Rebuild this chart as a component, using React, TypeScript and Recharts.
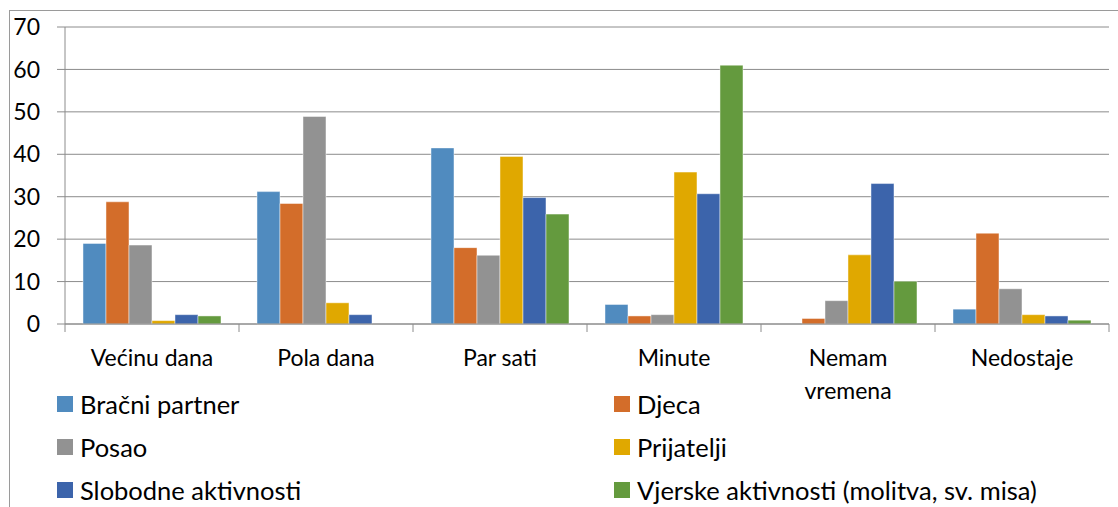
import { Bar, BarChart, CartesianGrid, Legend, XAxis, YAxis } from "recharts";

const categories = ["Većinu dana", "Pola dana", "Par sati", "Minute", "Nemam vremena", "Nedostaje"];
const bracniPartner = [19.0, 31.2, 41.5, 4.6, 0, 3.5];
const djeca = [28.8, 28.4, 18.0, 1.9, 1.3, 21.4];
const posao = [18.6, 48.9, 16.2, 2.2, 5.5, 8.3];
const prijatelji = [0.8, 5.0, 39.5, 35.8, 16.3, 2.2];
const slobodneAktivnosti = [2.2, 2.2, 29.8, 30.7, 33.1, 1.9];
const vjerskeAktivnosti = [1.9, 0, 25.9, 61.0, 10.1, 0.9];
const yTicks = [0, 10, 20, 30, 40, 50, 60, 70];

const series = [
  { key: "bracni", name: "Bračni partner", color: "#508bbf", values: bracniPartner },
  { key: "djeca", name: "Djeca", color: "#d36d2a", values: djeca },
  { key: "posao", name: "Posao", color: "#929292", values: posao },
  { key: "prijatelji", name: "Prijatelji", color: "#e0a800", values: prijatelji },
  { key: "slobodne", name: "Slobodne aktivnosti", color: "#3c64ab", values: slobodneAktivnosti },
  { key: "vjerske", name: "Vjerske aktivnosti (molitva, sv. misa)", color: "#649a3e", values: vjerskeAktivnosti },
];

const data = categories.map((name, i) => {
  const row: Record<string, string | number> = { name };
  series.forEach((s) => {
    row[s.key] = s.values[i];
  });
  return row;
});

const FONT = "Lato, 'Open Sans', sans-serif";
const AXIS = "#8c8c8c";

// long labels wrap onto one word per line, like the original
function wrapLabel(label: string): string[] {
  if (label.length <= 12) return [label];
  return label.split(" ");
}

// label in the middle of the band, tick marks on the band edges (Excel style)
function CategoryTick(props: any) {
  const { x, y, payload, index, width, visibleTicksCount } = props;
  const lines = wrapLabel(String(payload.value));
  const count = visibleTicksCount || categories.length;
  const half = (width || 1044) / count / 2;
  return (
    <g>
      <line x1={x - half} x2={x - half} y1={y} y2={y + 8} stroke={AXIS} />
      {index === count - 1 && <line x1={x + half} x2={x + half} y1={y} y2={y + 8} stroke={AXIS} />}
      <text x={x} y={y} textAnchor="middle" fill="#000" fontFamily={FONT} fontSize={23}>
        {lines.map((line, i) => (
          <tspan key={line} x={x} dy={i === 0 ? 42 : 33}>
            {line}
          </tspan>
        ))}
      </text>
    </g>
  );
}

function LegendGrid() {
  return (
    <div
      style={{
        display: "grid",
        gridTemplateColumns: "557px auto",
        gridAutoRows: "43px",
        fontFamily: FONT,
        fontSize: 25.5,
        color: "#000",
      }}
    >
      {series.map((s) => (
        <div key={s.key} style={{ display: "flex", alignItems: "center", whiteSpace: "nowrap" }}>
          <span style={{ width: 16, height: 16, background: s.color, marginRight: 7, flex: "none" }} />
          {s.name}
        </div>
      ))}
    </div>
  );
}

export default function App() {
  return (
    <div style={{ position: "fixed", left: 0, top: 0, width: 1118, height: 507, background: "#fff", overflow: "hidden" }}>
      <div
        style={{
          position: "absolute",
          left: 9,
          top: 10,
          width: 1118,
          height: 507,
          borderLeft: "1px solid #9a9a9a",
          borderTop: "1px solid #9a9a9a",
        }}
      />
      <BarChart
        width={1118}
        height={507}
        data={data}
        margin={{ top: 27, right: 9, bottom: 182, left: 8 }}
        barCategoryGap="10.34%"
        barGap={0}
        style={{ position: "absolute", left: 0, top: 0 }}
      >
        <CartesianGrid horizontal vertical={false} stroke={AXIS} strokeWidth={1} />
        <XAxis
          dataKey="name"
          height={1}
          tick={<CategoryTick />}
          tickLine={false}
          tickSize={0}
          tickMargin={0}
          axisLine={{ stroke: AXIS }}
          interval={0}
        />
        <YAxis
          domain={[0, 70]}
          ticks={yTicks}
          width={57}
          tickSize={8}
          tickMargin={17}
          tickLine={{ stroke: AXIS }}
          axisLine={{ stroke: AXIS }}
          tick={{ fill: "#000", fontFamily: FONT, fontSize: 23 }}
          interval={0}
        />
        <Legend
          layout="vertical"
          align="center"
          verticalAlign="middle"
          content={<LegendGrid />}
          wrapperStyle={{ position: "absolute", left: 57, top: 382, width: 1040 }}
        />
        {series.map((s) => (
          <Bar
            key={s.key}
            dataKey={s.key}
            name={s.name}
            fill={s.color}
            stroke="rgba(255,255,255,0.45)"
            strokeWidth={1}
            isAnimationActive={false}
          />
        ))}
      </BarChart>
    </div>
  );
}
